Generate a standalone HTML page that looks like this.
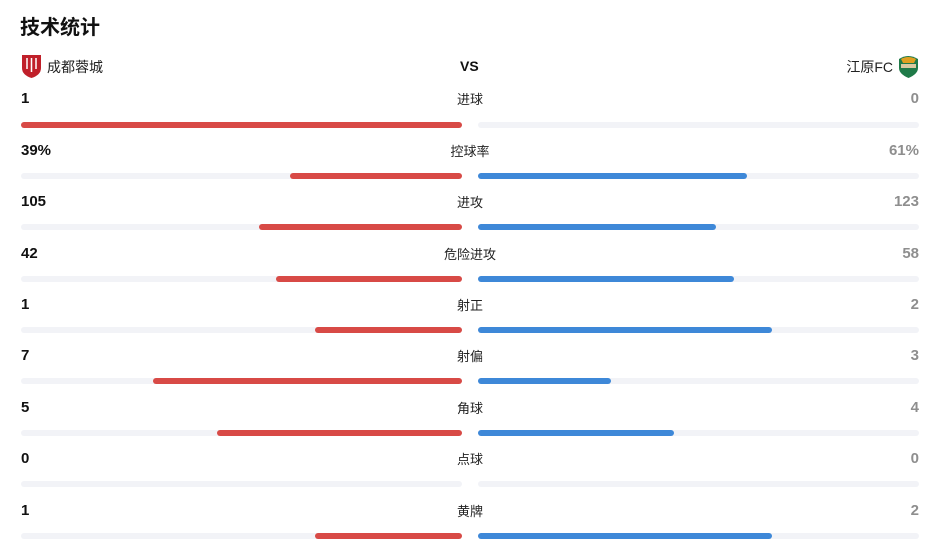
<!DOCTYPE html>
<html><head><meta charset="utf-8"><style>
body{margin:0;width:933px;height:542px;background:#fff;position:relative;overflow:hidden;font-family:"Liberation Sans","Noto Sans CJK SC",sans-serif;}
.a{position:absolute;white-space:nowrap}
.t{position:absolute;height:6px;border-radius:3px;background:#f2f3f7}
.r{position:absolute;height:6px;border-radius:3px;background:#d84a46}
.b{position:absolute;height:6px;border-radius:3px;background:#3e88d8}
.lv{left:21px;font-size:15px;font-weight:bold;color:#111}
.rv{right:14px;font-size:15px;font-weight:bold;color:#8e8e8e}
.c{left:0;width:940px;text-align:center;font-size:13px;color:#222;margin-top:-2px}
</style></head><body>
<div class="a" style="left:20px;top:11px;font-size:20px;font-weight:bold;color:#111">技术统计</div>
<svg class="a" style="left:22px;top:55px" width="19" height="23" viewBox="0 0 19 23"><path d="M0 0H19V13Q19 20 9.5 23Q0 20 0 13Z" fill="#c0202a"/><path d="M5 3V14M9.5 3V17M14 3V14" stroke="#fff" stroke-width="1.5"/></svg>
<div class="a" style="left:47px;top:57px;font-size:14px;color:#222">成都蓉城</div>
<div class="a" style="left:460px;top:58px;font-size:14px;font-weight:bold;color:#111">VS</div>
<div class="a" style="right:40px;top:57px;font-size:14px;color:#222">江原FC</div>
<svg class="a" style="left:898px;top:55px" width="21" height="23" viewBox="0 0 21 23"><path d="M1 4Q10 -2 20 4V13Q20 19 10.5 23Q1 19 1 13Z" fill="#1f7a48"/><path d="M3 4Q10 0 18 4L16 8H5Z" fill="#e0a020"/><rect x="3" y="9" width="15" height="4" fill="#d9c9a0"/></svg>

<div class="a lv" style="top:90px">1</div><div class="a c" style="top:91px">进球</div><div class="a rv" style="top:90px">0</div>
<div class="t" style="left:21px;width:441px;top:122px"></div><div class="t" style="left:478px;width:441px;top:122px"></div>
<div class="r" style="left:21px;width:441px;top:122px"></div>

<div class="a lv" style="top:142px">39%</div><div class="a c" style="top:143px">控球率</div><div class="a rv" style="top:142px">61%</div>
<div class="t" style="left:21px;width:441px;top:173px"></div><div class="t" style="left:478px;width:441px;top:173px"></div>
<div class="r" style="left:290px;width:172px;top:173px"></div><div class="b" style="left:478px;width:269px;top:173px"></div>

<div class="a lv" style="top:193px">105</div><div class="a c" style="top:194px">进攻</div><div class="a rv" style="top:193px">123</div>
<div class="t" style="left:21px;width:441px;top:224px"></div><div class="t" style="left:478px;width:441px;top:224px"></div>
<div class="r" style="left:259px;width:203px;top:224px"></div><div class="b" style="left:478px;width:238px;top:224px"></div>

<div class="a lv" style="top:245px">42</div><div class="a c" style="top:246px">危险进攻</div><div class="a rv" style="top:245px">58</div>
<div class="t" style="left:21px;width:441px;top:276px"></div><div class="t" style="left:478px;width:441px;top:276px"></div>
<div class="r" style="left:276px;width:186px;top:276px"></div><div class="b" style="left:478px;width:256px;top:276px"></div>

<div class="a lv" style="top:296px">1</div><div class="a c" style="top:297px">射正</div><div class="a rv" style="top:296px">2</div>
<div class="t" style="left:21px;width:441px;top:327px"></div><div class="t" style="left:478px;width:441px;top:327px"></div>
<div class="r" style="left:315px;width:147px;top:327px"></div><div class="b" style="left:478px;width:294px;top:327px"></div>

<div class="a lv" style="top:347px">7</div><div class="a c" style="top:348px">射偏</div><div class="a rv" style="top:347px">3</div>
<div class="t" style="left:21px;width:441px;top:378px"></div><div class="t" style="left:478px;width:441px;top:378px"></div>
<div class="r" style="left:153px;width:309px;top:378px"></div><div class="b" style="left:478px;width:133px;top:378px"></div>

<div class="a lv" style="top:399px">5</div><div class="a c" style="top:400px">角球</div><div class="a rv" style="top:399px">4</div>
<div class="t" style="left:21px;width:441px;top:430px"></div><div class="t" style="left:478px;width:441px;top:430px"></div>
<div class="r" style="left:217px;width:245px;top:430px"></div><div class="b" style="left:478px;width:196px;top:430px"></div>

<div class="a lv" style="top:450px">0</div><div class="a c" style="top:451px">点球</div><div class="a rv" style="top:450px">0</div>
<div class="t" style="left:21px;width:441px;top:481px"></div><div class="t" style="left:478px;width:441px;top:481px"></div>

<div class="a lv" style="top:502px">1</div><div class="a c" style="top:503px">黄牌</div><div class="a rv" style="top:502px">2</div>
<div class="t" style="left:21px;width:441px;top:533px"></div><div class="t" style="left:478px;width:441px;top:533px"></div>
<div class="r" style="left:315px;width:147px;top:533px"></div><div class="b" style="left:478px;width:294px;top:533px"></div>
</body></html>
